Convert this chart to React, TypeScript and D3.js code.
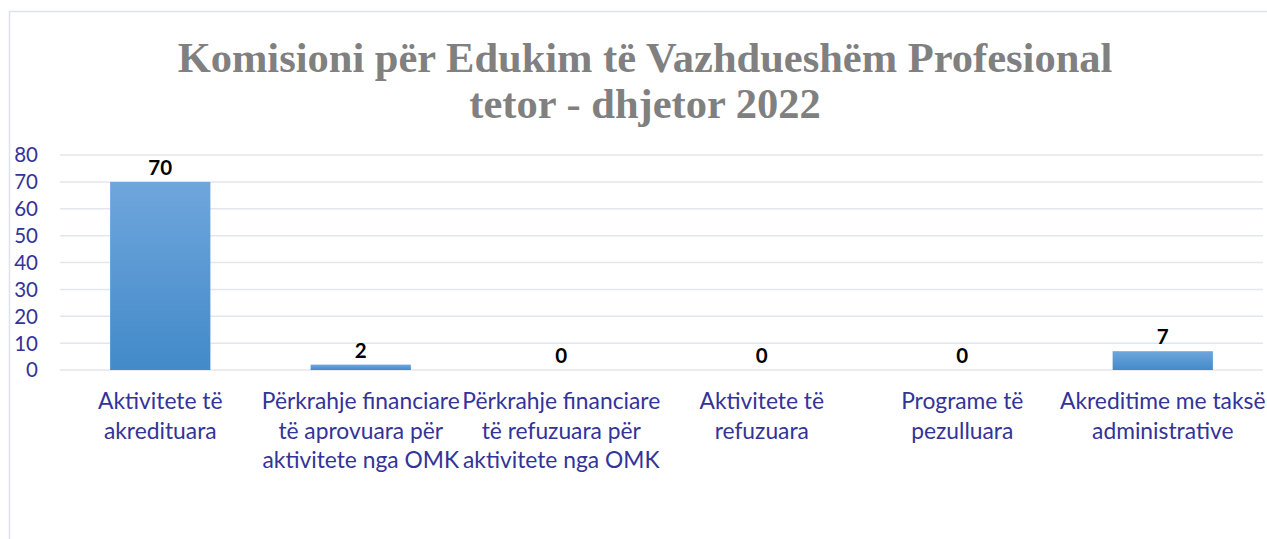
import React from "react";
import * as d3 from "d3";

const categories: string[][] = [
  ["Aktivitete të", "akredituara"],
  ["Përkrahje financiare", "të aprovuara për", "aktivitete nga OMK"],
  ["Përkrahje financiare", "të refuzuara për", "aktivitete nga OMK"],
  ["Aktivitete të", "refuzuara"],
  ["Programe të", "pezulluara"],
  ["Akreditime me taksë", "administrative"],
];
const values: number[] = [70, 2, 0, 0, 0, 7];
const yTicks: number[] = [0, 10, 20, 30, 40, 50, 60, 70, 80];
const titleLines: string[] = [
  "Komisioni për Edukim të Vazhdueshëm Profesional",
  "tetor - dhjetor 2022",
];

const W = 1267;
const H = 539;
const plot = { left: 60, right: 1263, top: 155, bottom: 370 };

export default function App() {
  const x = d3
    .scaleBand<number>()
    .domain(values.map((_, i) => i))
    .range([plot.left, plot.right])
    .paddingInner(0.5)
    .paddingOuter(0.25);
  const y = d3.scaleLinear().domain([0, 80]).range([plot.bottom, plot.top]);
  const labelFont = "Lato, 'Open Sans', sans-serif";

  return (
    <svg
      width={W}
      height={H}
      style={{ position: "absolute", left: 0, top: 0, background: "#fff" }}
    >
      <defs>
        <linearGradient id="barGrad" x1="0" y1="0" x2="0" y2="1">
          <stop offset="0%" stopColor="#6fa6dc" />
          <stop offset="100%" stopColor="#428ac9" />
        </linearGradient>
      </defs>
      <rect x={9.5} y={11.5} width={1270} height={560} fill="#fff" stroke="#dde3ec" strokeWidth={1.5} />
      {titleLines.map((t, i) => (
        <text
          key={i}
          x={645}
          y={72 + i * 46}
          textAnchor="middle"
          fontFamily="'Liberation Serif', 'Times New Roman', serif"
          fontWeight="bold"
          fontSize={42.5}
          fill="#808080"
        >
          {t}
        </text>
      ))}
      {yTicks.map((t) => (
        <g key={t}>
          <line
            x1={plot.left}
            x2={plot.right}
            y1={y(t)}
            y2={y(t)}
            stroke="#e3e6ec"
            strokeWidth={1.5}
          />
          <text
            x={38}
            y={y(t)}
            dy="0.36em"
            textAnchor="end"
            fontFamily={labelFont}
            fontSize={20.5}
            fill="#333399"
          >
            {t}
          </text>
        </g>
      ))}
      {values.map((v, i) => (
        <g key={i}>
          <rect
            x={x(i)}
            y={y(v)}
            width={x.bandwidth()}
            height={y(0) - y(v)}
            fill="url(#barGrad)"
          />
          <text
            x={(x(i) as number) + x.bandwidth() / 2}
            y={y(v) - 7}
            textAnchor="middle"
            fontFamily={labelFont}
            fontWeight="bold"
            fontSize={20.5}
            fill="#000"
          >
            {v}
          </text>
          {categories[i].map((line, j) => (
            <text
              key={j}
              x={(x(i) as number) + x.bandwidth() / 2}
              y={409 + j * 29.5}
              textAnchor="middle"
              fontFamily={labelFont}
              fontSize={22.8}
              fill="#333399"
            >
              {line}
            </text>
          ))}
        </g>
      ))}
    </svg>
  );
}
